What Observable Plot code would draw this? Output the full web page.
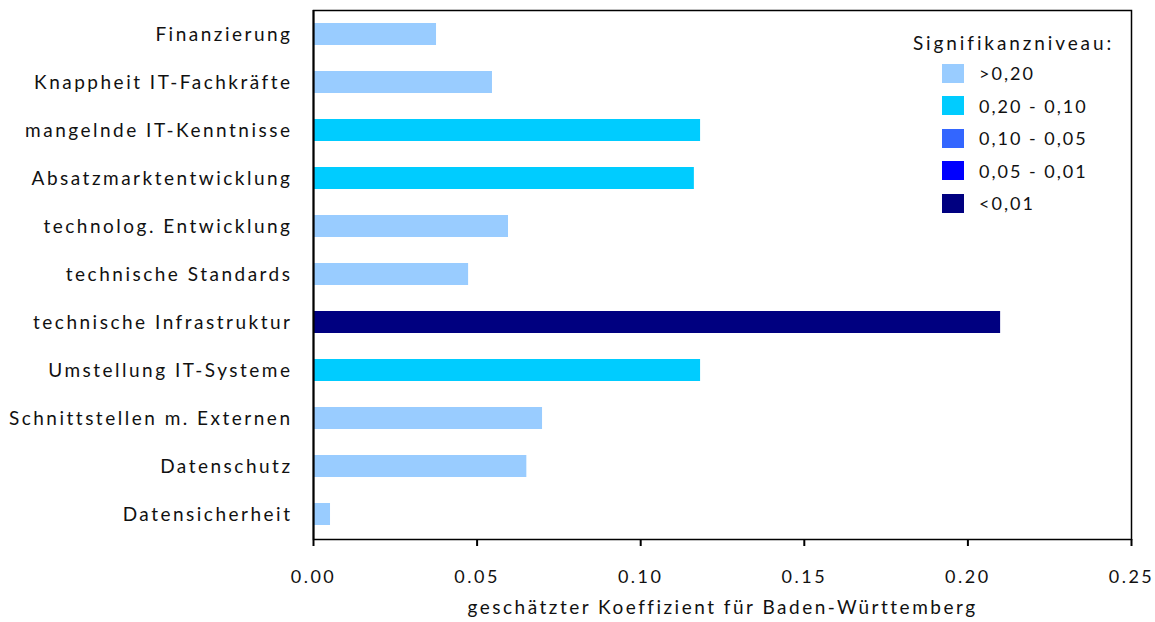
<!DOCTYPE html>
<html>
<head>
<meta charset="utf-8">
<script src="https://cdn.jsdelivr.net/npm/d3@7"></script>
<script src="https://cdn.jsdelivr.net/npm/@observablehq/plot@0.6"></script>
<style>
  body { margin: 0; background: #fff; font-family: Lato, "Open Sans", sans-serif; }
  #wrap { position: relative; width: 1155px; height: 622px; }
  #legend { position: absolute; left: 913px; top: 31px; font-size: 18px; letter-spacing: 2.0px; color: #111; }
  #legend .title { margin-bottom: 3px; font-size: 19px; letter-spacing: 2.9px; }
  #legend .row { display: flex; align-items: center; height: 32.5px; margin-left: 29px; }
  #legend .sw { width: 22px; height: 19px; margin-right: 15px; }
</style>
</head>
<body>
<div id="wrap"><div id="chart"></div><div id="legend"></div></div>
<script>
const categories = ["Finanzierung","Knappheit IT-Fachkräfte","mangelnde IT-Kenntnisse","Absatzmarktentwicklung","technolog. Entwicklung","technische Standards","technische Infrastruktur","Umstellung IT-Systeme","Schnittstellen m. Externen","Datenschutz","Datensicherheit"];
const coefficients = [0.0376, 0.0547, 0.1183, 0.1164, 0.0596, 0.0474, 0.210, 0.1183, 0.0700, 0.0652, 0.0052];
const significance = [">0,20", ">0,20", "0,20 - 0,10", "0,20 - 0,10", ">0,20", ">0,20", "<0,01", "0,20 - 0,10", ">0,20", ">0,20", ">0,20"];
const levels = [">0,20", "0,20 - 0,10", "0,10 - 0,05", "0,05 - 0,01", "<0,01"];
const levelColors = ["#99CCFF", "#00CCFF", "#3366FF", "#0000FF", "#000080"];
const xTicks = [0, 0.05, 0.10, 0.15, 0.20, 0.25];

const data = categories.map((c, i) => ({category: c, value: coefficients[i], sig: significance[i]}));

const chart = Plot.plot({
  width: 1155,
  height: 622,
  marginLeft: 313,
  marginRight: 24,
  marginTop: 10,
  marginBottom: 83,
  style: {fontFamily: "Lato, 'Open Sans', sans-serif", fontSize: "19px", color: "#111", background: "#fff", letterSpacing: "2.5px"},
  x: {domain: [0, 0.25], ticks: xTicks, tickFormat: d3.format(".2f"), label: "geschätzter Koeffizient für Baden-Württemberg", labelAnchor: "center", labelArrow: "none"},
  y: {domain: categories, paddingInner: 0.54, paddingOuter: 0.24, label: null},
  color: {domain: levels, range: levelColors},
  marks: [
    Plot.barX(data, {x: "value", y: "category", fill: "sig"}),
    Plot.frame({stroke: "#000", strokeWidth: 1.5}),
    Plot.ruleX([0], {stroke: "#000", strokeWidth: 2}),
    Plot.ruleY([0], {frameAnchor: "bottom", stroke: "#000", strokeWidth: 2}),
    Plot.axisX({ticks: xTicks, tickFormat: d3.format(".2f"), tickSize: 7, tickPadding: 24, strokeWidth: 2, stroke: "#000", fontSize: 18, label: null}),
    Plot.axisX({ticks: [], label: "geschätzter Koeffizient für Baden-Württemberg", labelAnchor: "center", labelArrow: "none", labelOffset: 74, fontSize: 19, tickSize: 0}),
    Plot.axisY({tickSize: 0, tickPadding: 21, fontSize: 19, label: null})
  ]
});
document.getElementById("chart").appendChild(chart);

const legend = document.getElementById("legend");
const t = document.createElement("div"); t.className = "title"; t.textContent = "Signifikanzniveau:"; legend.appendChild(t);
levels.forEach((l, i) => {
  const r = document.createElement("div"); r.className = "row";
  const s = document.createElement("div"); s.className = "sw"; s.style.background = levelColors[i];
  const tx = document.createElement("span"); tx.textContent = l;
  r.appendChild(s); r.appendChild(tx); legend.appendChild(r);
});
</script>
</body>
</html>
